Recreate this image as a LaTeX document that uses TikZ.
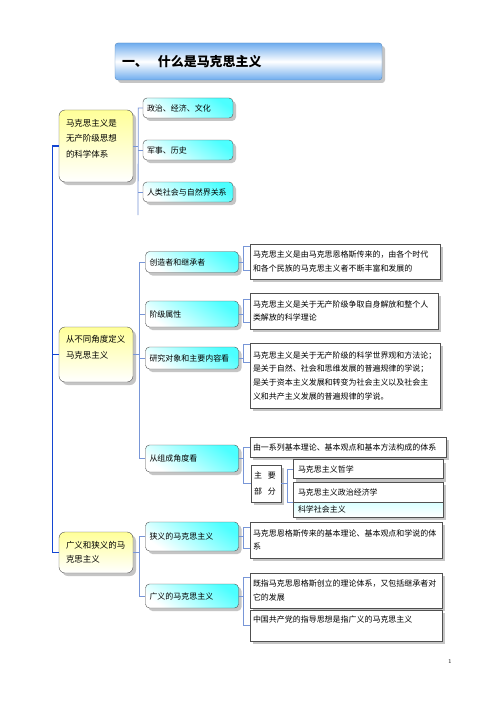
\documentclass[tikz,border=0pt]{standalone}
\usepackage{fontspec}
\usepackage{tikz}
\newfontfamily\zhfont{Noto Sans CJK SC}
\usetikzlibrary{shadows}
\definecolor{mainblue}{RGB}{20,70,210}
\definecolor{linkblue}{RGB}{120,150,215}
\definecolor{barblue}{RGB}{110,172,238}
\definecolor{boxedge}{RGB}{80,80,80}
\tikzset{box shadow/.style={drop shadow={shadow xshift=3bp, shadow yshift=-3bp, fill=gray!60, opacity=0.75}},
 title bar/.style={draw=barblue!80!black, rounded corners=3bp, top color=barblue, bottom color=barblue,
  middle color=white, box shadow, inner xsep=7bp, align=left,
  font=\zhfont\bfseries\fontsize{13}{15}\selectfont},
 main box/.style={draw=boxedge, rounded corners=6bp, top color=yellow!40, bottom color=white, box shadow,
  text width=60bp, inner xsep=7bp, align=left, font=\zhfont\fontsize{8.5}{15.5}\selectfont},
 sub box/.style={draw=boxedge, rounded corners=4bp, top color=cyan!70, bottom color=white, shading angle=-35,
  box shadow, text width=85bp, inner xsep=4bp, align=left, font=\zhfont\fontsize{8}{12}\selectfont},
 text box/.style={draw=boxedge, fill=white, box shadow, inner xsep=3bp, align=left,
  font=\zhfont\fontsize{8}{13.7}\selectfont},
 bus/.style={draw=mainblue, line width=1.1bp},
 link/.style={draw=linkblue, line width=0.8bp},
 }

\begin{document}
\begin{tikzpicture}[x=1bp, y=-1bp]
    \path[use as bounding box, fill=white] (0,0) rectangle (500,708);
    \node[title bar, minimum height=37bp, text width=253bp] (title) at (248.5,61.5) {一、\hspace{10bp}什么是马克思主义};
    % left column
    \node[main box, minimum height=72bp] (m1) at (96,146) {马克思主义是\\无产阶级思想\\的科学体系\\~};
    \node[main box, minimum height=55bp] (m2) at (96,354.5) {从不同角度定义\\马克思主义\\~};
    \node[main box, minimum height=41bp, font=\zhfont\fontsize{8.5}{14}\selectfont] (m3) at (96,552.5) {广义和狭义的马\\克思主义};
    % middle column
    \node[sub box, text width=82bp, minimum height=20bp] (s1) at (188,108) {政治、经济、文化};
    \node[sub box, text width=82bp, minimum height=20bp] (s2) at (188,150) {军事、历史};
    \node[sub box, text width=82bp, minimum height=20bp] (s3) at (188,192) {人类社会与自然界关系};
    \node[sub box, minimum height=21bp] (s4) at (192,262) {创造者和继承者};
    \node[sub box, minimum height=26bp] (s5) at (192,314) {阶级属性};
    \node[sub box, minimum height=22bp] (s6) at (192,358) {研究对象和主要内容看};
    \node[sub box, minimum height=27bp] (s7) at (192,458.5) {从组成角度看};
    \node[sub box, minimum height=29bp] (s8) at (192,536.5) {狭义的马克思主义};
    \node[sub box, minimum height=24bp] (s9) at (192,596) {广义的马克思主义};
    % right column
    \node[text box, text width=184bp, minimum height=35bp] (d1) at (345,261.5) {马克思主义是由马克思恩格斯传来的，由各个时代\\和各个民族的马克思主义者不断丰富和发展的};
    \node[text box, text width=182bp, minimum height=36bp] (d2) at (344,311) {马克思主义是关于无产阶级争取自身解放和整个人\\类解放的科学理论};
    \node[text box, text width=184bp, minimum height=65bp] (d3) at (345,375.5) {马克思主义是关于无产阶级的科学世界观和方法论；\\是关于自然、社会和思维发展的普遍规律的学说；\\是关于资本主义发展和转变为社会主义以及社会主\\义和共产主义发展的普遍规律的学说。};
    \node[text box, text width=190bp, minimum height=20bp] (d4) at (348,447) {由一系列基本理论、基本观点和基本方法构成的体系};
    \node[text box, text width=24bp, minimum height=37bp, font=\zhfont\fontsize{8}{17}\selectfont] (d5) at (266,483.5) {主\hspace{6bp}要\\部\hspace{6bp}分};
    \node[text box, text width=140bp, inner xsep=5bp, minimum height=19bp] (d6) at (368,469) {马克思主义哲学};
    \node[text box, text width=140bp, inner xsep=5bp, minimum height=20bp] (d7) at (368,492) {马克思主义政治经济学};
    \node[text box, text width=140bp, inner xsep=5bp, minimum height=15bp, top color=cyan!15, bottom color=white] (d8) at (368,509.5) {科学社会主义};
    \node[text box, text width=186bp, minimum height=36bp] (d9) at (346,540) {马克思恩格斯传来的基本理论、基本观点和学说的体\\系};
    \node[text box, text width=186bp, minimum height=35bp] (d10) at (346,590.5) {既指马克思恩格斯创立的理论体系，又包括继承者对\\它的发展};
    \node[text box, text width=186bp, minimum height=31bp] (d11) at (346,625.5) {中国共产党的指导思想是指广义的马克思主义\\~};
    \node[font=\fontsize{6}{7}\selectfont] (pnum) at (450,662) {1};
    % spine
    \draw[bus] (m1.west) -- ++(-6,0) coordinate (spine) |- (m3.west);
    \draw[bus] (m2.west) -- (spine |- m2.west);
    % first group
    \coordinate (g1end) at (138,215);
    \draw[link] (m1.east) -- ++(5,0) coordinate (g1);
    \draw[link] (s1.west) -| (g1) -- (g1end);
    \draw[link] (s2.west) -- (g1 |- s2.west);
    \draw[link] (s3.west) -- (g1 |- s3.west);
    % second group
    \draw[link] (m2.east) -- ++(6,0) coordinate (g2);
    \draw[link] (s4.west) -| (g2) |- (s7.west);
    \draw[link] (s5.west) -- (g2 |- s5.west);
    \draw[link] (s6.west) -- (g2 |- s6.west);
    % third group
    \draw[link] (m3.east) -- ++(6,0) coordinate (g3);
    \draw[link] (s8.west) -| (g3) |- (s9.west);
    % brackets to the texts
    \draw[link] (s4.east) -- ++(5,0) coordinate (k4);
    \draw[link] ([yshift=-3bp]d1.north west) -| (k4) |- ([yshift=9bp]d1.south west);
    \draw[link] (s5.east) -- ++(5,0) coordinate (k5);
    \draw[link] ([yshift=-7bp]d2.north west) -| (k5) |- ([yshift=7bp]d2.south west);
    \draw[link] (s6.east) -- ++(5,0) coordinate (k6);
    \draw[link] ([yshift=-2bp]d3.north west) -| (k6) |- ([yshift=-20bp]d3.north west);
    \draw[link] (s7.east) -- ++(5,0) coordinate (k7);
    \draw[link] (d4.west) -| (k7) |- (d5.west);
    \draw[link] (d5.east) -- ++(6,0) coordinate (kp);
    \draw[link] (d6.west) -| (kp) |- (d7.south west);
    \draw[link] (s8.east) -- ++(5,0) coordinate (k8);
    \draw[link] ([yshift=-6bp]d9.north west) -| (k8) |- ([yshift=10bp]d9.south west);
    \draw[link] (s9.east) -- ++(5,0) coordinate (k9);
    \draw[link] ([yshift=-5bp]d10.north west) -| (k9) |- (d11.west);
\end{tikzpicture}
\end{document}
